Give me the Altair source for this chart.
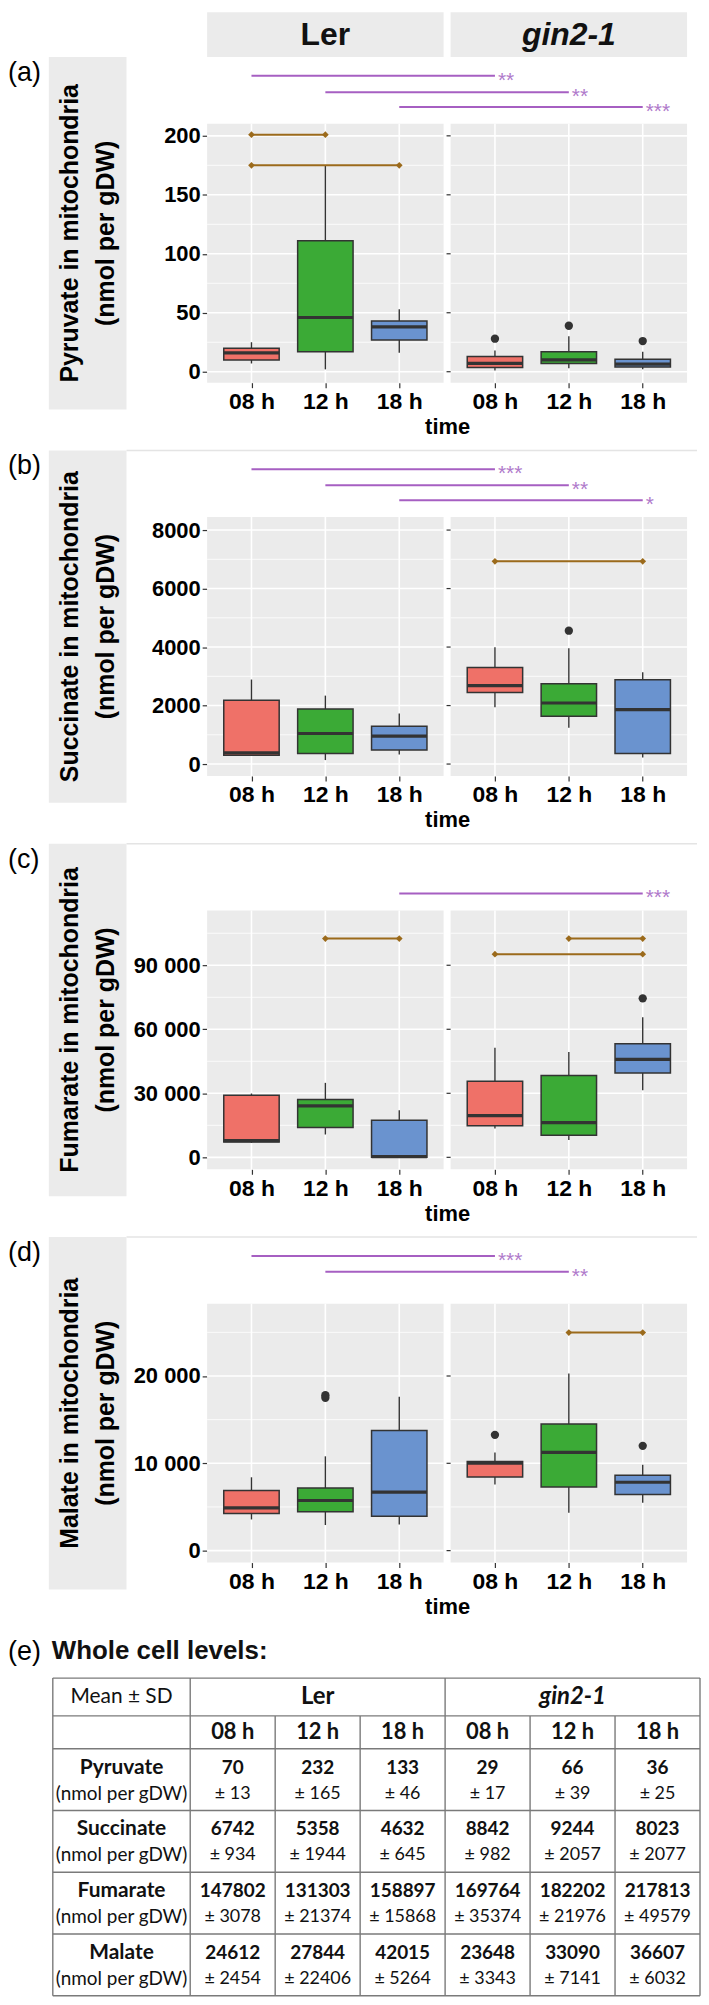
import altair as alt
import pandas as pd

FONT = "Liberation Sans, Arial, Helvetica, sans-serif"
TFONT = "Lato, Carlito, Calibri, sans-serif"

# ---------------- data ----------------
TIMES = ["08 h", "12 h", "18 h"]
GENOTYPES = ["Ler", "gin2-1"]
BOX_COLORS = ["#EF7168", "#3BAA36", "#6A93CF"]

# box summaries, order: Ler 08/12/18 h, gin2-1 08/12/18 h
pyr_lo = [7, 2, 16, 1, 3, 2]
pyr_q1 = [10, 17, 27, 3.5, 7, 4]
pyr_med = [16, 46, 38, 7, 10, 6.5]
pyr_q3 = [20, 111, 43, 13, 17, 10.5]
pyr_hi = [25, 175, 53, 18, 30, 17]
pyr_out_idx = [3, 4, 5]
pyr_out_val = [28, 39, 26]

suc_lo = [280, 136, 330, 1940, 1240, 220]
suc_q1 = [300, 364, 477, 2450, 1634, 364]
suc_med = [380, 1044, 953, 2680, 2088, 1860]
suc_q3 = [2180, 1884, 1293, 3300, 2746, 2880]
suc_hi = [2890, 2340, 1725, 3990, 3960, 3140]
suc_out_idx = [4]
suc_out_val = [4560]

fum_lo = [6800, 10700, 0, 13500, 8100, 31400]
fum_q1 = [7200, 14000, 0, 14800, 10400, 39500]
fum_med = [7800, 24100, 300, 19500, 16300, 45900]
fum_q3 = [29100, 27100, 17400, 35600, 38400, 53200]
fum_hi = [29900, 34900, 22100, 51300, 49300, 65600]
fum_out_idx = [5]
fum_out_val = [74500]

mal_lo = [3570, 2930, 3000, 7560, 4330, 5470]
mal_q1 = [4260, 4450, 3950, 8440, 7300, 6420]
mal_med = [4900, 5740, 6690, 10030, 11250, 7830]
mal_q3 = [6880, 7180, 13760, 10220, 14510, 8630]
mal_hi = [8400, 10800, 17630, 11250, 20290, 9840]
mal_out_idx = [1, 1, 3, 5]
mal_out_val = [17500, 17800, 13260, 12000]

# within-genotype comparisons (brown)
pyr_br_geno = ["Ler", "Ler"]
pyr_br_from = ["08 h", "08 h"]
pyr_br_to = ["12 h", "18 h"]
pyr_br_y = [201, 175]
suc_br_geno = ["gin2-1"]
suc_br_from = ["08 h"]
suc_br_to = ["18 h"]
suc_br_y = [6930]
fum_br_geno = ["Ler", "gin2-1", "gin2-1"]
fum_br_from = ["12 h", "12 h", "08 h"]
fum_br_to = ["18 h", "18 h", "18 h"]
fum_br_y = [102500, 102500, 95200]
mal_br_geno = ["gin2-1"]
mal_br_from = ["12 h"]
mal_br_to = ["18 h"]
mal_br_y = [24970]

# between-genotype comparisons (purple)
pyr_sig_time = ["08 h", "12 h", "18 h"]
pyr_sig_stars = ["**", "**", "***"]
pyr_sig_y = [251, 237, 224.5]
suc_sig_time = ["08 h", "12 h", "18 h"]
suc_sig_stars = ["***", "**", "*"]
suc_sig_y = [10080, 9530, 9020]
fum_sig_time = ["18 h"]
fum_sig_stars = ["***"]
fum_sig_y = [123600]
mal_sig_time = ["08 h", "12 h"]
mal_sig_stars = ["***", "**"]
mal_sig_y = [33750, 31930]

# axes
pyr_dom = [-9.3, 210.2]
pyr_ticks = [0, 50, 100, 150, 200]
pyr_minor = [25, 75, 125, 175]
suc_dom = [-408, 8443]
suc_ticks = [0, 2000, 4000, 6000, 8000]
suc_minor = [1000, 3000, 5000, 7000]
fum_dom = [-5600, 115700]
fum_ticks = [0, 30000, 60000, 90000]
fum_minor = [15000, 45000, 75000, 105000]
mal_dom = [-1370, 28280]
mal_ticks = [0, 10000, 20000]
mal_minor = [5000, 15000, 25000]

# whole cell table
metabolites = ["Pyruvate", "Succinate", "Fumarate", "Malate"]
pyr_mean = [70, 232, 133, 29, 66, 36]
pyr_sd = [13, 165, 46, 17, 39, 25]
suc_mean = [6742, 5358, 4632, 8842, 9244, 8023]
suc_sd = [934, 1944, 645, 982, 2057, 2077]
fum_mean = [147802, 131303, 158897, 169764, 182202, 217813]
fum_sd = [3078, 21374, 15868, 35374, 21976, 49579]
mal_mean = [24612, 27844, 42015, 23648, 33090, 36607]
mal_sd = [2454, 22406, 5264, 3343, 7141, 6032]

# ---------------- layout constants ----------------
PANEL_LO, PANEL_HI = 0.4, 3.6
PANEL_SHIFT = 3.295
BOX_HALF = 0.375
X_DOMAIN = [PANEL_LO, PANEL_HI + PANEL_SHIFT]
ROW_W, ROW_H, PLOT_H = 482, 327, 260
STRIP_H = 354
BG = "#EBEBEB"
DARK = "#333333"
PURPLE = "#A65FC2"
BROWN = "#9B6A1B"


def xpos(geno, time):
    return TIMES.index(time) + 1 + (PANEL_SHIFT if geno == GENOTYPES[1] else 0.0)


POSITIONS = [xpos(g, t) for g in GENOTYPES for t in TIMES]
X_LABEL_EXPR = "".join(
    f"abs(datum.value - {xpos(g, t)}) < 0.01 ? '{t}' : " for g in GENOTYPES for t in TIMES
) + "''"


def make_row(tag, ytitle, lo, q1, med, q3, hi, out_idx, out_val, dom, ticks, minor, spaced,
             br_geno, br_from, br_to, br_y, sig_time, sig_stars, sig_y, header=False):
    dmin, dmax = dom
    ytop = dmin + (dmax - dmin) * ROW_H / PLOT_H
    xsc = alt.Scale(domain=X_DOMAIN, nice=False, zero=False)
    ysc = alt.Scale(domain=[dmin, ytop], nice=False, zero=False)

    ylab = "replace(format(datum.value, ','), ',', ' ')" if spaced else "format(datum.value, 'd')"
    y_axis = alt.Axis(values=ticks, labelExpr=ylab, title="", grid=False, domain=False,
                      tickColor=DARK, tickSize=5, tickWidth=1.2, labelFont=FONT,
                      labelFontSize=22, labelFontWeight="bold", labelColor="black",
                      labelPadding=2)
    x_axis = alt.Axis(values=POSITIONS, labelExpr=X_LABEL_EXPR, title="time", grid=False,
                      domain=False, tickColor=DARK, tickSize=5, tickWidth=1.2,
                      labelFont=FONT, labelFontSize=23, labelFontWeight="bold",
                      labelColor="black", labelPadding=3, labelAngle=0, labelFlush=False,
                      titleFont=FONT, titleFontSize=22, titleFontWeight="bold",
                      titleColor="black", titlePadding=3)

    def X(f):
        return alt.X(f, type="quantitative", scale=xsc, axis=x_axis, title="time")

    def Y(f):
        return alt.Y(f, type="quantitative", scale=ysc, axis=y_axis, title="")

    panel_x0 = [PANEL_LO, PANEL_LO + PANEL_SHIFT]
    panel_x1 = [PANEL_HI, PANEL_HI + PANEL_SHIFT]
    panels = pd.DataFrame({"x0": panel_x0, "x1": panel_x1, "y0": [dmin] * 2, "y1": [dmax] * 2,
                           "geno": GENOTYPES,
                           "xc": [(a + b) / 2 for a, b in zip(panel_x0, panel_x1)]})
    bg = alt.Chart(panels).mark_rect(color=BG).encode(
        x=X("x0"), x2="x1:Q", y=Y("y0"), y2="y1:Q")

    def hgrid(vals):
        return pd.DataFrame([{"x0": a, "x1": b, "y": v}
                             for a, b in zip(panel_x0, panel_x1) for v in vals])

    gmin = alt.Chart(hgrid(minor)).mark_rule(color="white", strokeWidth=0.8).encode(
        x=X("x0"), x2="x1", y=Y("y"))
    gmaj = alt.Chart(hgrid(ticks)).mark_rule(color="white", strokeWidth=1.6).encode(
        x=X("x0"), x2="x1", y=Y("y"))
    vg = pd.DataFrame({"x": POSITIONS, "y0": dmin, "y1": dmax})
    gv = alt.Chart(vg).mark_rule(color="white", strokeWidth=1.6).encode(
        x=X("x"), y=Y("y0"), y2="y1")
    rt = pd.DataFrame({"x0": PANEL_LO + PANEL_SHIFT - 0.055, "x1": PANEL_LO + PANEL_SHIFT,
                       "y": ticks})
    rticks = alt.Chart(rt).mark_rule(color=DARK, strokeWidth=1.2).encode(
        x=X("x0"), x2="x1", y=Y("y"))

    groups = [(g, t) for g in GENOTYPES for t in TIMES]
    pos = [xpos(g, t) for g, t in groups]
    box = pd.DataFrame({
        "geno": [g for g, _ in groups], "time": [t for _, t in groups], "pos": pos,
        "left": [p - BOX_HALF for p in pos], "right": [p + BOX_HALF for p in pos],
        "lo": lo, "q1": q1, "med": med, "q3": q3, "hi": hi})
    color = alt.Color("time:N", scale=alt.Scale(domain=TIMES, range=BOX_COLORS), legend=None)
    whisk = alt.Chart(box).mark_rule(color=DARK, strokeWidth=1.4).encode(
        x=X("pos"), y=Y("lo"), y2="hi")
    rects = alt.Chart(box).mark_rect(stroke=DARK, strokeWidth=1.5).encode(
        x=X("left"), x2="right", y=Y("q1"), y2="q3", color=color)
    meds = alt.Chart(box).mark_rule(color=DARK, strokeWidth=3.2).encode(
        x=X("left"), x2="right", y=Y("med"))
    outs = pd.DataFrame({"pos": [pos[i] for i in out_idx], "v": out_val})
    outl = alt.Chart(outs).mark_circle(color=DARK, size=70, opacity=1).encode(
        x=X("pos"), y=Y("v"))

    br = pd.DataFrame({"x0": [xpos(g, a) for g, a in zip(br_geno, br_from)],
                       "x1": [xpos(g, b) for g, b in zip(br_geno, br_to)], "y": br_y})
    brl = alt.Chart(br).mark_rule(color=BROWN, strokeWidth=2).encode(
        x=X("x0"), x2="x1", y=Y("y"))
    brp_df = pd.DataFrame({"x": list(br["x0"]) + list(br["x1"]), "y": list(br["y"]) * 2})
    brp = alt.Chart(brp_df).mark_point(shape="diamond", filled=True, color=BROWN, size=45,
                                       opacity=1).encode(x=X("x"), y=Y("y"))

    sg = pd.DataFrame({"x0": [xpos(GENOTYPES[0], t) for t in sig_time],
                       "x1": [xpos(GENOTYPES[1], t) for t in sig_time],
                       "y": sig_y, "stars": sig_stars})
    sgl = alt.Chart(sg).mark_rule(color=PURPLE, strokeWidth=2).encode(
        x=X("x0"), x2="x1", y=Y("y"))
    sgt = alt.Chart(sg).mark_text(color="#B07ACB", align="left", baseline="alphabetic",
                                  dx=3, dy=11, fontSize=21, font=FONT).encode(
        x=X("x1"), y=Y("y"), text="stars:N")

    one = pd.DataFrame({"k": [0]})
    strip = alt.Chart(one).mark_rect(color=BG).encode(
        x=alt.value(-159), x2=alt.value(-81), y=alt.value(0), y2=alt.value(STRIP_H))
    stitle = alt.Chart(one).mark_text(angle=270, align="center", baseline="middle",
                                      fontSize=25, fontWeight="bold", font=FONT,
                                      lineBreak="\n", lineHeight=36, color="black").encode(
        x=alt.value(-138), y=alt.value(STRIP_H / 2), text=alt.value(ytitle))
    tagt = alt.Chart(one).mark_text(align="left", baseline="middle", fontSize=27,
                                    font=FONT, color="black").encode(
        x=alt.value(-200), y=alt.value(16), text=alt.value(tag))

    layers = [bg, gmin, gmaj, gv, rticks, whisk, rects, meds, outl, brl, brp, sgl, sgt]
    if header:
        hrect = alt.Chart(panels).mark_rect(color=BG).encode(
            x=X("x0"), x2="x1", y=alt.value(-45), y2=alt.value(0))
        h1 = alt.Chart(panels.iloc[[0]]).mark_text(
            fontSize=32, fontWeight="bold", font=FONT, baseline="middle", color="#111").encode(
            x=X("xc"), y=alt.value(-22), text="geno:N")
        h2 = alt.Chart(panels.iloc[[1]]).mark_text(
            fontSize=32, fontWeight="bold", fontStyle="italic", font=FONT, baseline="middle",
            color="#111").encode(x=X("xc"), y=alt.value(-22), text="geno:N")
        layers += [hrect, h1, h2]
    else:
        sep = alt.Chart(one).mark_rule(color="#E4E4E4", strokeWidth=1.5).encode(
            x=alt.value(-81), x2=alt.value(ROW_W + 10), y=alt.value(0))
        layers.append(sep)
    layers += [strip, stitle, tagt]
    return alt.layer(*layers).properties(width=ROW_W, height=ROW_H)


rowA = make_row("(a)", "Pyruvate in mitochondria\n(nmol per gDW)", pyr_lo, pyr_q1, pyr_med,
                pyr_q3, pyr_hi, pyr_out_idx, pyr_out_val, pyr_dom, pyr_ticks, pyr_minor, False,
                pyr_br_geno, pyr_br_from, pyr_br_to, pyr_br_y,
                pyr_sig_time, pyr_sig_stars, pyr_sig_y, header=True)
rowB = make_row("(b)", "Succinate in mitochondria\n(nmol per gDW)", suc_lo, suc_q1, suc_med,
                suc_q3, suc_hi, suc_out_idx, suc_out_val, suc_dom, suc_ticks, suc_minor, False,
                suc_br_geno, suc_br_from, suc_br_to, suc_br_y,
                suc_sig_time, suc_sig_stars, suc_sig_y)
rowC = make_row("(c)", "Fumarate in mitochondria\n(nmol per gDW)", fum_lo, fum_q1, fum_med,
                fum_q3, fum_hi, fum_out_idx, fum_out_val, fum_dom, fum_ticks, fum_minor, True,
                fum_br_geno, fum_br_from, fum_br_to, fum_br_y,
                fum_sig_time, fum_sig_stars, fum_sig_y)
rowD = make_row("(d)", "Malate in mitochondria\n(nmol per gDW)", mal_lo, mal_q1, mal_med,
                mal_q3, mal_hi, mal_out_idx, mal_out_val, mal_dom, mal_ticks, mal_minor, True,
                mal_br_geno, mal_br_from, mal_br_to, mal_br_y,
                mal_sig_time, mal_sig_stars, mal_sig_y)


# ---------------- table ----------------
def make_table():
    tx = alt.Scale(domain=[0, 1, 7], range=[-155, -17, 495], zero=False, nice=False)
    ty = alt.Scale(domain=[0, 1, 2, 6], range=[48, 86, 119, 367], zero=False, nice=False)

    def X(f):
        return alt.X(f, type="quantitative", scale=tx, axis=None)

    def Y(f):
        return alt.Y(f, type="quantitative", scale=ty, axis=None)

    line_col = "#7A7A7A"
    hl = pd.DataFrame({"y": list(range(7)), "x0": 0, "x1": 7})
    vl = pd.DataFrame({"x": [0, 1, 4, 7, 2, 3, 5, 6], "y0": [0, 0, 0, 0, 1, 1, 1, 1],
                       "y1": 6})
    hlines = alt.Chart(hl).mark_rule(color=line_col, strokeWidth=1.4).encode(
        x=X("x0"), x2="x1", y=Y("y"))
    vlines = alt.Chart(vl).mark_rule(color=line_col, strokeWidth=1.4).encode(
        x=X("x"), y=Y("y0"), y2="y1")

    def txt(df, size, weight="normal", style="normal", dy=0):
        return alt.Chart(df).mark_text(font=TFONT, fontSize=size, fontWeight=weight,
                                       fontStyle=style, baseline="middle", align="center",
                                       dy=dy, color="#111").encode(
            x=X("c"), y=Y("r"), text="t:N")

    corner = pd.DataFrame({"c": [0.5], "r": [0.5], "t": ["Mean ± SD"]})
    g1 = pd.DataFrame({"c": [2.5], "r": [0.5], "t": [GENOTYPES[0]]})
    g2 = pd.DataFrame({"c": [5.5], "r": [0.5], "t": [GENOTYPES[1]]})
    th = pd.DataFrame({"c": [1.5 + i for i in range(6)], "r": 1.5, "t": TIMES * 2})
    names = pd.DataFrame({"c": 0.5, "r": [2.5 + i for i in range(4)], "t": metabolites})
    units = pd.DataFrame({"c": 0.5, "r": [2.5 + i for i in range(4)],
                          "t": ["(nmol per gDW)"] * 4})
    means = [pyr_mean, suc_mean, fum_mean, mal_mean]
    sds = [pyr_sd, suc_sd, fum_sd, mal_sd]
    mdf = pd.DataFrame([{"c": 1.5 + j, "r": 2.5 + i, "t": str(means[i][j])}
                        for i in range(4) for j in range(6)])
    sdf = pd.DataFrame([{"c": 1.5 + j, "r": 2.5 + i, "t": "± " + str(sds[i][j])}
                        for i in range(4) for j in range(6)])

    one = pd.DataFrame({"k": [0]})
    etag = alt.Chart(one).mark_text(align="left", baseline="middle", fontSize=27, font=FONT,
                                    color="black").encode(
        x=alt.value(-200), y=alt.value(22), text=alt.value("(e)"))
    etitle = alt.Chart(one).mark_text(align="left", baseline="middle", fontSize=26,
                                      fontWeight="bold", font=FONT, color="#111").encode(
        x=alt.value(-156), y=alt.value(21), text=alt.value("Whole cell levels:"))

    return alt.layer(
        hlines, vlines,
        txt(corner, 21),
        txt(g1, 24, "bold"), txt(g2, 24, "bold", "italic"),
        txt(th, 22, "bold"),
        txt(names, 21, "bold", dy=-12), txt(units, 19, dy=14),
        txt(mdf, 19, "bold", dy=-12), txt(sdf, 18, dy=14),
        etag, etitle,
    ).properties(width=ROW_W, height=367)


table = make_table()

chart = alt.vconcat(rowA, rowB, rowC, rowD, table, spacing=68, bounds="flush").properties(
    padding=0, background="white").configure_view(strokeWidth=0)

chart.save("out.html", embed_options={"renderer": "svg", "actions": False})
